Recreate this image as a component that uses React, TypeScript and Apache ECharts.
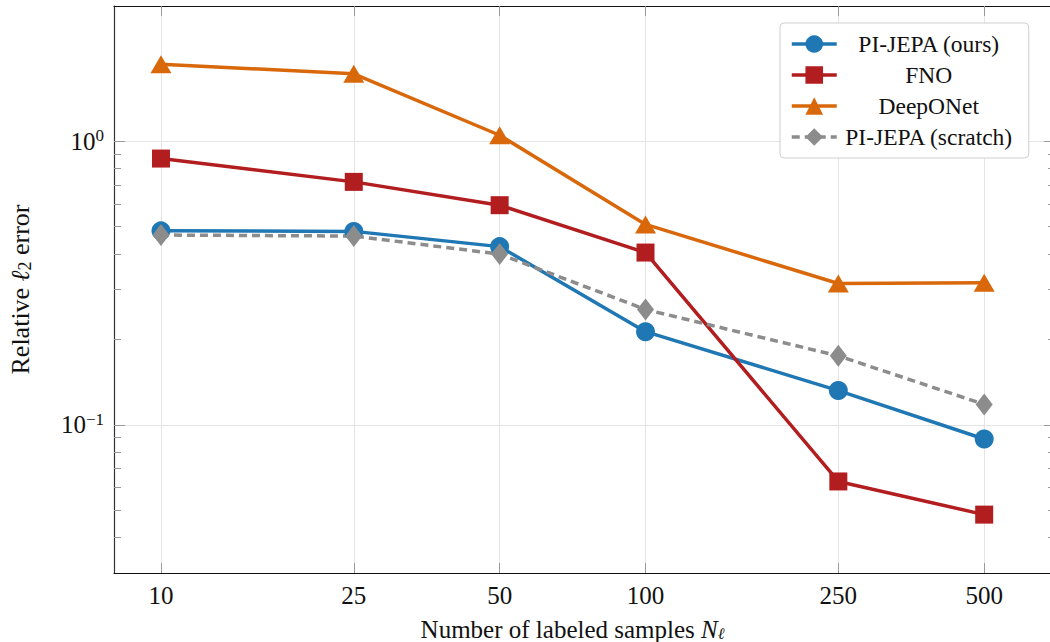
import React, { useEffect, useRef } from 'react';
import * as echarts from 'echarts';

const samples = [10, 25, 50, 100, 250, 500];
const piJepaOurs = [0.483, 0.481, 0.425, 0.213, 0.132, 0.0891];
const fno = [0.869, 0.719, 0.595, 0.405, 0.0631, 0.0482];
const deepONet = [1.87, 1.73, 1.05, 0.509, 0.315, 0.317];
const piJepaScratch = [0.467, 0.463, 0.4, 0.255, 0.175, 0.118];
const seriesNames = ['PI-JEPA (ours)', 'FNO', 'DeepONet', 'PI-JEPA (scratch)'];
const yMajorTicks = [0.1, 1];
const yMinorTicks = [0.04, 0.05, 0.06, 0.07, 0.08, 0.09, 0.2, 0.3, 0.4, 0.5, 0.6, 0.7, 0.8, 0.9];

const FONT = 'Liberation Serif';
const TICK_COLOR = '#9a9a9a';
const GRID_COLOR = '#e4e4e4';

function pairs(ys: number[]) {
  return samples.map((x, i) => [x, ys[i]]);
}

export default function App() {
  const ref = useRef<HTMLDivElement>(null);
  useEffect(() => {
    document.body.style.margin = '0';
    if (!ref.current) return;
    const chart = echarts.init(ref.current, undefined, { renderer: 'svg' });
    const xBase = { type: 'log', logBase: 10, min: 8, max: 700, gridIndex: 0 } as any;
    const yBase = { type: 'log', logBase: 10, min: 0.03, max: 3, gridIndex: 0 } as any;
    const supRich = {
      b: { fontSize: 25, fontFamily: FONT, color: '#111', lineHeight: 28 },
      sup: { fontSize: 17, fontFamily: FONT, color: '#111', verticalAlign: 'top', lineHeight: 14 },
    };
    const option: any = {
      animation: false,
      backgroundColor: '#fff',
      textStyle: { fontFamily: FONT },
      grid: { left: 114, top: 6, right: -5, bottom: 69, containLabel: false, outerBoundsMode: 'none' },
      legend: {
        orient: 'vertical',
        left: 780,
        top: 23,
        padding: [9, 13, 9, 10],
        itemWidth: 45,
        itemHeight: 22,
        itemGap: 7,
        backgroundColor: '#fff',
        borderColor: '#cfcfcf',
        borderWidth: 1,
        borderRadius: 4,
        lineStyle: { width: 3.5 },
        data: seriesNames,
        formatter: (name: string) => `{t|${name}}`,
        textStyle: {
          fontFamily: FONT,
          rich: {
            t: { width: 174, align: 'center', fontSize: 23.5, fontFamily: FONT, color: '#111', lineHeight: 22 },
          },
        },
      },
      xAxis: [
        {
          ...xBase,
          position: 'bottom',
          name: '{r|Number of labeled samples }{n|N}{s|ℓ}',
          nameLocation: 'middle',
          nameGap: 44,
          nameTextStyle: {
            fontFamily: FONT,
            padding: [0, 24, 0, 0],
            rich: {
              r: { fontSize: 25, fontFamily: FONT, color: '#111', lineHeight: 24 },
              n: { fontSize: 25, fontFamily: FONT, color: '#111', fontStyle: 'italic', lineHeight: 24 },
              s: { fontSize: 16, fontFamily: FONT, color: '#111', fontStyle: 'italic', verticalAlign: 'bottom', lineHeight: 6 },
            },
          },
          axisLine: { show: true, onZero: false, lineStyle: { color: '#111', width: 1.2 } },
          axisTick: { show: true, inside: true, length: 10, customValues: samples, lineStyle: { color: TICK_COLOR, width: 1 } },
          axisLabel: {
            customValues: samples,
            margin: 10,
            fontSize: 25,
            fontFamily: FONT,
            color: '#111',
            formatter: (v: number) => String(Math.round(v)),
          },
          splitLine: { show: true, lineStyle: { color: GRID_COLOR, width: 1 } },
        },
        {
          ...xBase,
          position: 'top',
          axisLine: { show: true, onZero: false, lineStyle: { color: '#111', width: 1.2 } },
          axisTick: { show: true, inside: true, length: 10, customValues: samples, lineStyle: { color: TICK_COLOR, width: 1 } },
          axisLabel: { show: false },
          splitLine: { show: false },
        },
      ],
      yAxis: [
        {
          ...yBase,
          position: 'left',
          name: '{r|Relative }{l|ℓ}{s|2}{r| error}',
          nameLocation: 'middle',
          nameGap: 80,
          nameRotate: 90,
          nameTextStyle: {
            fontFamily: FONT,
            rich: {
              r: { fontSize: 26, fontFamily: FONT, color: '#111', lineHeight: 28 },
              l: { fontSize: 26, fontFamily: FONT, color: '#111', fontStyle: 'italic', lineHeight: 28 },
              s: { fontSize: 18, fontFamily: FONT, color: '#111', verticalAlign: 'bottom', lineHeight: 16 },
            },
          },
          axisLine: { show: true, onZero: false, lineStyle: { color: '#333', width: 1.2 } },
          axisTick: { show: true, inside: true, length: 11, customValues: yMajorTicks, lineStyle: { color: TICK_COLOR, width: 1 } },
          axisLabel: {
            customValues: yMajorTicks,
            margin: 10,
            fontFamily: FONT,
            formatter: (v: number) => {
              const e = Math.round(Math.log10(v));
              const s = e < 0 ? '−' + String(-e) : String(e);
              return `{b|10}{sup|${s}}`;
            },
            rich: supRich,
          },
          splitLine: { show: true, lineStyle: { color: GRID_COLOR, width: 1 } },
        },
        {
          ...yBase,
          position: 'left',
          axisLine: { show: false },
          axisTick: { show: true, inside: true, length: 7, customValues: yMinorTicks, lineStyle: { color: TICK_COLOR, width: 1 } },
          axisLabel: { show: false },
          splitLine: { show: false },
        },
        {
          ...yBase,
          position: 'right',
          axisLine: { show: true, onZero: false, lineStyle: { color: '#111', width: 1.2 } },
          axisTick: { show: true, inside: true, length: 11, customValues: yMajorTicks, lineStyle: { color: TICK_COLOR, width: 1 } },
          axisLabel: { show: false },
          splitLine: { show: false },
        },
        {
          ...yBase,
          position: 'right',
          axisLine: { show: false },
          axisTick: { show: true, inside: true, length: 7, customValues: yMinorTicks, lineStyle: { color: TICK_COLOR, width: 1 } },
          axisLabel: { show: false },
          splitLine: { show: false },
        },
      ],
      series: [
        {
          name: seriesNames[0],
          type: 'line',
          data: pairs(piJepaOurs),
          symbol: 'circle',
          symbolSize: 19,
          lineStyle: { color: '#1f77b4', width: 3.5 },
          itemStyle: { color: '#1f77b4' },
        },
        {
          name: seriesNames[1],
          type: 'line',
          data: pairs(fno),
          symbol: 'rect',
          symbolSize: 18,
          lineStyle: { color: '#b21d1f', width: 3.5 },
          itemStyle: { color: '#b21d1f' },
        },
        {
          name: seriesNames[2],
          type: 'line',
          data: pairs(deepONet),
          symbol: 'triangle',
          symbolSize: [21, 18],
          lineStyle: { color: '#d9680b', width: 3.5 },
          itemStyle: { color: '#d9680b' },
        },
        {
          name: seriesNames[3],
          type: 'line',
          data: pairs(piJepaScratch),
          symbol: 'diamond',
          symbolSize: [17, 22],
          lineStyle: { color: '#8c8c8c', width: 3.5, type: [8, 5] },
          itemStyle: { color: '#8c8c8c' },
        },
      ],
    };
    chart.setOption(option);
    return () => chart.dispose();
  }, []);
  return <div ref={ref} style={{ width: 1050, height: 642 }} />;
}
